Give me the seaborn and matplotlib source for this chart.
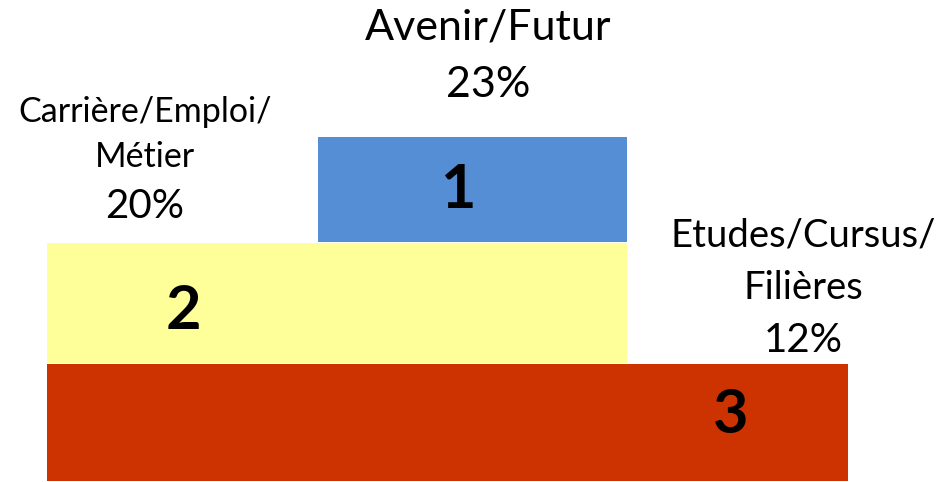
import matplotlib
matplotlib.use("Agg")
import matplotlib.pyplot as plt
import seaborn as sns

# podium data
ranks = ["1", "2", "3"]
themes = ["Avenir/Futur", "Carrière/Emploi/\nMétier", "Etudes/Cursus/\nFilières"]
percents = ["23%", "20%", "12%"]
colors = ["#558ED5", "#FFFF99", "#CC3300"]

# step extents (pixel-like units, y measured from bottom)
bar_start = [318, 47, 47]
bar_end = [627, 627, 848]
bar_bottom = [240, 119, 1]
bar_top = [345, 239, 118]

sns.set_style("white")
plt.rcParams["font.family"] = ["Lato", "DejaVu Sans"]

fig = plt.figure(figsize=(9.52, 4.82), dpi=100)
ax = fig.add_axes([0, 0, 1, 1])
ax.set_xlim(0, 952)
ax.set_ylim(0, 482)
ax.axis("off")

for i in range(3):
    ax.barh(y=(bar_bottom[i] + bar_top[i]) / 2,
            width=bar_end[i] - bar_start[i],
            height=bar_top[i] - bar_bottom[i],
            left=bar_start[i], color=colors[i], edgecolor="none")

# rank numbers
num_x = [458, 183, 731]
num_y = [482 - 190, 482 - 311, 482 - 415]
for i in range(3):
    ax.text(num_x[i], num_y[i], ranks[i], fontsize=44, fontweight="bold",
            ha="center", va="center", color="black")

# labels above each step
lab_x = [488, 145, 803]
lab_y = [[28, 85], [112, 157, 207], [235, 288, 340]]
lab_size = [31, 24.5, 27.5]
pct_size = [31, 29, 29]
for i in range(3):
    lines = themes[i].split("\n") + [percents[i]]
    for j, line in enumerate(lines):
        fs = pct_size[i] if j == len(lines) - 1 else lab_size[i]
        ax.text(lab_x[i], 482 - lab_y[i][j], line, fontsize=fs,
                ha="center", va="center", color="black")

fig.savefig("out.png", dpi=100)
